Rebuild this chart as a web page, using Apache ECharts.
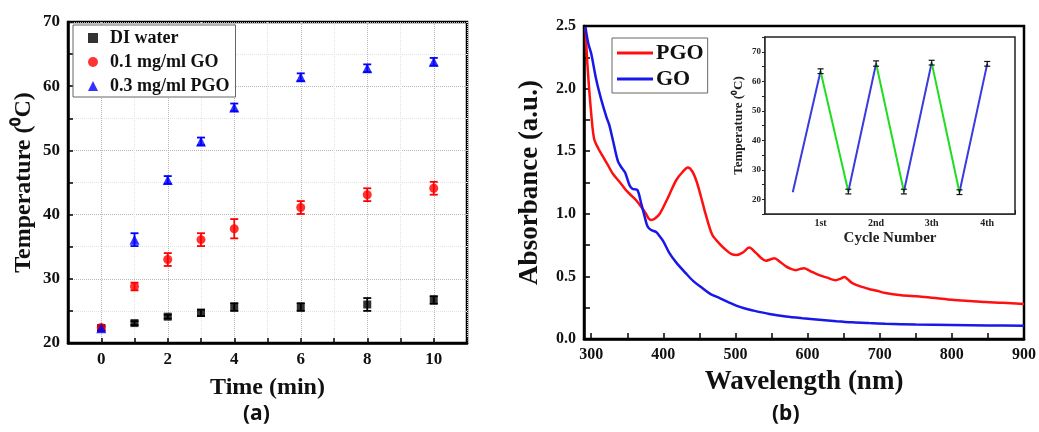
<!DOCTYPE html>
<html>
<head>
<meta charset="utf-8">
<script src="https://cdn.jsdelivr.net/npm/echarts@6/dist/echarts.min.js"></script>
<style>
    html, body { margin: 0; padding: 0; background: #fff; }
    #container { width: 1039px; height: 432px; }
</style>
</head>
<body>
<div id="container"></div>
<script>
// (a) heating curves
const timeMin = [0, 1, 2, 3, 4, 6, 8, 10];
const diWater = [22.3, 23.1, 24.1, 24.7, 25.6, 25.6, 26.0, 26.7];
const diWaterErr = [0.3, 0.3, 0.3, 0.5, 0.6, 0.6, 1.0, 0.6];
const goTemp = [22.4, 28.8, 33.0, 36.1, 37.8, 41.1, 43.1, 44.1];
const goErr = [0.4, 0.6, 1.0, 1.0, 1.5, 1.0, 1.0, 1.0];
const pgoTemp = [22.3, 36.1, 45.4, 51.4, 56.7, 61.4, 62.8, 63.8];
const pgoErr = [0.4, 1.0, 0.6, 0.6, 0.6, 0.6, 0.6, 0.6];
const timeTicks = [0, 2, 4, 6, 8, 10];

// (b) absorbance spectra
const pgoWl = [292, 295, 300, 304, 310, 316, 323, 330, 340, 348, 355, 362, 370, 376, 380, 383, 388, 395, 404, 412, 418, 426, 434, 440, 446, 452, 459, 468, 478, 487, 494, 501, 510, 519, 528, 535, 542, 548, 554, 562, 570, 577, 584, 590, 595, 603, 616, 627, 639, 645, 651, 656, 662, 673, 685, 696, 708, 730, 755, 780, 800, 825, 847, 870, 900];
const pgoAbs = [2.49, 2.17, 1.80, 1.60, 1.52, 1.46, 1.39, 1.32, 1.25, 1.19, 1.15, 1.11, 1.05, 1.00, 0.96, 0.95, 0.96, 1.00, 1.10, 1.20, 1.27, 1.33, 1.37, 1.34, 1.26, 1.14, 0.99, 0.83, 0.76, 0.71, 0.68, 0.67, 0.69, 0.73, 0.69, 0.65, 0.625, 0.635, 0.645, 0.615, 0.58, 0.56, 0.55, 0.56, 0.565, 0.545, 0.51, 0.49, 0.47, 0.48, 0.495, 0.475, 0.446, 0.42, 0.40, 0.385, 0.367, 0.35, 0.34, 0.325, 0.313, 0.303, 0.295, 0.29, 0.28];
const goWl = [292, 296, 300, 307, 314, 321, 325, 330, 337, 342, 347, 353, 357, 364, 369, 374, 378, 383, 390, 395, 400, 408, 418, 431, 442, 454, 465, 478, 490, 501, 512, 524, 547, 570, 593, 616, 640, 662, 685, 708, 750, 800, 850, 900];
const goAbs = [2.49, 2.36, 2.28, 2.07, 1.91, 1.775, 1.71, 1.59, 1.42, 1.37, 1.33, 1.23, 1.20, 1.19, 1.09, 0.98, 0.90, 0.87, 0.855, 0.82, 0.78, 0.69, 0.61, 0.526, 0.46, 0.407, 0.36, 0.327, 0.295, 0.266, 0.245, 0.228, 0.20, 0.18, 0.166, 0.154, 0.142, 0.133, 0.127, 0.122, 0.116, 0.112, 0.108, 0.106];
const wlLabels = [300, 400, 500, 600, 700, 800, 900];
const wlTicks = [300, 350, 400, 450, 500, 550, 600, 650, 700, 750, 800, 850, 900];

// (b) inset: heating / cooling cycles
const cycleX = [0.5, 1, 1.5, 2, 2.5, 3, 3.5, 4];
const cycleT = [22.4, 63.4, 22.6, 66.0, 22.6, 66.3, 22.4, 65.9];
const cycleErr = [0, 0.8, 0.8, 0.9, 0.8, 0.8, 0.8, 0.8];
const cycleNames = { 1: '1st', 2: '2nd', 3: '3th', 4: '4th' };

const serif = "'Liberation Serif', 'Times New Roman', serif";

function errRender(capW, color, lw) {
    return function (params, api) {
        const x = api.value(0);
        const lo = api.coord([x, api.value(1)]);
        const hi = api.coord([x, api.value(2)]);
        const st = { stroke: color, lineWidth: lw };
        return {
            type: 'group',
            children: [
                { type: 'line', shape: { x1: lo[0], y1: lo[1], x2: hi[0], y2: hi[1] }, style: st },
                { type: 'line', shape: { x1: lo[0] - capW, y1: lo[1], x2: lo[0] + capW, y2: lo[1] }, style: st },
                { type: 'line', shape: { x1: hi[0] - capW, y1: hi[1], x2: hi[0] + capW, y2: hi[1] }, style: st }
            ]
        };
    };
}

function errData(xs, ys, es) {
    return xs.map((x, i) => [x, ys[i] - es[i], ys[i] + es[i]]);
}

function pairs(xs, ys) {
    return xs.map((x, i) => [x, ys[i]]);
}

// split cycle line into rising (blue) and falling (green) pieces
let risingData = [];
let fallingData = [];
for (let i = 1; i < cycleX.length; i++) {
    let seg = [[cycleX[i - 1], cycleT[i - 1]], [cycleX[i], cycleT[i]]];
    let target = cycleT[i] > cycleT[i - 1] ? risingData : fallingData;
    if (target.length) target.push('-');
    target.push(...seg);
}

let options = {
    animation: false,
    backgroundColor: '#fff',
    graphic: {
        elements: [
            {
                type: 'text', left: 243, top: 404,
                style: { text: '(a)', font: "bold 21px 'Noto Sans', sans-serif", fill: '#111' }
            },
            {
                type: 'text', left: 772, top: 404,
                style: { text: '(b)', font: "bold 21px 'Noto Sans', sans-serif", fill: '#111' }
            }
        ]
    },
    legend: [
        {
            data: ['DI water', '0.1 mg/ml GO', '0.3 mg/ml PGO'],
            orient: 'vertical',
            left: 73,
            top: 25,
            padding: [4, 6, 2, 15],
            itemGap: 6,
            itemWidth: 10,
            itemHeight: 10,
            borderColor: '#666',
            borderWidth: 1,
            backgroundColor: '#fff',
            textStyle: { fontFamily: serif, fontWeight: 'bold', fontSize: 18, color: '#111', padding: [0, 0, 0, 7] }
        },
        {
            data: ['PGO', 'GO'],
            orient: 'vertical',
            left: 612,
            top: 38,
            padding: [4, 4, 3, 5],
            itemGap: 4,
            itemWidth: 36,
            itemHeight: 3,
            icon: 'rect',
            borderColor: '#666',
            borderWidth: 1,
            backgroundColor: '#fff',
            textStyle: { fontFamily: serif, fontWeight: 'bold', fontSize: 22, color: '#111', padding: [0, 0, 0, -2] }
        }
    ],
    grid: [
        { left: 68, top: 22, width: 399, height: 321, show: true, borderColor: '#000', borderWidth: 2.5 },
        { left: 584, top: 26, width: 442, height: 313, show: true, borderColor: '#000', borderWidth: 2.5 },
        { left: 765, top: 37, width: 250, height: 177, show: true, borderColor: '#222', borderWidth: 1.5, backgroundColor: '#fff', z: 5 }
    ],
    xAxis: [
        {
            gridIndex: 0,
            type: 'value',
            min: -1,
            max: 11,
            interval: 1,
            name: 'Time (min)',
            nameLocation: 'middle',
            nameGap: 33,
            nameTextStyle: { fontFamily: serif, fontWeight: 'bold', fontSize: 24, color: '#111' },
            axisLine: { onZero: false, lineStyle: { color: '#000', width: 2.5 } },
            axisTick: { inside: true, length: 5, lineStyle: { color: '#000', width: 1.5 } },
            axisLabel: {
                margin: 8,
                fontFamily: serif, fontWeight: 'bold', fontSize: 17, color: '#111',
                formatter: v => timeTicks.includes(v) ? String(v) : ''
            },
            splitLine: { show: true, lineStyle: { type: 'dotted', color: ['#e2e2e2', '#b8b8b8'], width: 1 } }
        },
        {
            gridIndex: 1,
            type: 'value',
            min: 290,
            max: 900,
            name: 'Wavelength (nm)',
            nameLocation: 'middle',
            nameGap: 30,
            nameTextStyle: { fontFamily: serif, fontWeight: 'bold', fontSize: 27, color: '#111' },
            axisLine: { onZero: false, lineStyle: { color: '#000', width: 2.5 } },
            axisTick: { inside: true, length: 6, customValues: wlTicks, lineStyle: { color: '#000', width: 1.5 } },
            axisLabel: {
                margin: 8, customValues: wlLabels,
                fontFamily: serif, fontWeight: 'bold', fontSize: 16, color: '#111'
            },
            splitLine: { show: false }
        },
        {
            gridIndex: 2,
            type: 'value',
            min: 0,
            max: 4.5,
            interval: 0.5,
            name: 'Cycle Number',
            nameLocation: 'middle',
            nameGap: 17,
            nameTextStyle: { fontFamily: serif, fontWeight: 'bold', fontSize: 15, color: '#222' },
            axisLine: { onZero: false, lineStyle: { color: '#222', width: 1.5 } },
            axisTick: { inside: true, length: 4, lineStyle: { color: '#222', width: 1 } },
            axisLabel: {
                margin: 4,
                fontFamily: serif, fontWeight: 'bold', fontSize: 10, color: '#222',
                formatter: v => cycleNames[v] || ''
            },
            splitLine: { show: false }
        }
    ],
    yAxis: [
        {
            gridIndex: 0,
            type: 'value',
            min: 20,
            max: 70,
            interval: 5,
            name: 'Temperature (⁰C)',
            nameLocation: 'middle',
            nameGap: 32,
            nameTextStyle: { fontFamily: serif, fontWeight: 'bold', fontSize: 24, color: '#111' },
            axisLine: { onZero: false, lineStyle: { color: '#000', width: 2.5 } },
            axisTick: { inside: true, length: 5, lineStyle: { color: '#000', width: 1.5 } },
            axisLabel: {
                margin: 8,
                fontFamily: serif, fontWeight: 'bold', fontSize: 17, color: '#111',
                formatter: v => v % 10 === 0 ? String(v) : ''
            },
            splitLine: { show: true, lineStyle: { type: 'dotted', color: ['#b8b8b8', '#e2e2e2'], width: 1 } }
        },
        {
            gridIndex: 1,
            type: 'value',
            min: 0,
            max: 2.5,
            interval: 0.5,
            name: 'Absorbance (a.u.)',
            nameLocation: 'middle',
            nameGap: 40,
            nameTextStyle: { fontFamily: serif, fontWeight: 'bold', fontSize: 27, color: '#111' },
            axisLine: { onZero: false, lineStyle: { color: '#000', width: 2.5 } },
            axisTick: { inside: true, length: 6, lineStyle: { color: '#000', width: 1.5 } },
            minorTick: { show: true, splitNumber: 2, length: 6, lineStyle: { color: '#000', width: 1.5 } },
            axisLabel: {
                margin: 8,
                fontFamily: serif, fontWeight: 'bold', fontSize: 16, color: '#111',
                formatter: v => v.toFixed(1)
            },
            splitLine: { show: false }
        },
        {
            gridIndex: 2,
            type: 'value',
            min: 15,
            max: 75,
            interval: 5,
            name: 'Temperature (⁰C)',
            nameLocation: 'middle',
            nameGap: 20,
            nameTextStyle: { fontFamily: serif, fontWeight: 'bold', fontSize: 13, color: '#222' },
            axisLine: { onZero: false, lineStyle: { color: '#222', width: 1.5 } },
            axisTick: { inside: false, length: 3, lineStyle: { color: '#222', width: 1 } },
            axisLabel: {
                margin: 4,
                fontFamily: serif, fontWeight: 'bold', fontSize: 9, color: '#222',
                formatter: v => v % 10 === 0 ? String(v) : ''
            },
            splitLine: { show: false }
        }
    ],
    series: [
        // (a) error bars
        {
            type: 'custom', xAxisIndex: 0, yAxisIndex: 0, z: 2,
            renderItem: errRender(4, '#000', 1.8),
            encode: { x: 0, y: [1, 2] },
            data: errData(timeMin, diWater, diWaterErr)
        },
        {
            type: 'custom', xAxisIndex: 0, yAxisIndex: 0, z: 2,
            renderItem: errRender(4, '#ff0000', 1.8),
            encode: { x: 0, y: [1, 2] },
            data: errData(timeMin, goTemp, goErr)
        },
        {
            type: 'custom', xAxisIndex: 0, yAxisIndex: 0, z: 2,
            renderItem: errRender(4, '#0000ff', 1.8),
            encode: { x: 0, y: [1, 2] },
            data: errData(timeMin, pgoTemp, pgoErr)
        },
        // (a) points
        {
            name: 'DI water', type: 'scatter', xAxisIndex: 0, yAxisIndex: 0, z: 3,
            symbol: 'rect', symbolSize: 8,
            itemStyle: { color: '#000' },
            data: pairs(timeMin, diWater)
        },
        {
            name: '0.1 mg/ml GO', type: 'scatter', xAxisIndex: 0, yAxisIndex: 0, z: 3,
            symbol: 'circle', symbolSize: 9,
            itemStyle: { color: '#ff0000' },
            data: pairs(timeMin, goTemp)
        },
        {
            name: '0.3 mg/ml PGO', type: 'scatter', xAxisIndex: 0, yAxisIndex: 0, z: 3,
            symbol: 'triangle', symbolSize: 10,
            itemStyle: { color: '#0000ff' },
            data: pairs(timeMin, pgoTemp)
        },
        // (b) spectra
        {
            name: 'PGO', type: 'line', xAxisIndex: 1, yAxisIndex: 1,
            symbol: 'none', smooth: 0.3,
            lineStyle: { color: '#ff1010', width: 2.5 },
            itemStyle: { color: '#ff1010' },
            data: pairs(pgoWl, pgoAbs)
        },
        {
            name: 'GO', type: 'line', xAxisIndex: 1, yAxisIndex: 1,
            symbol: 'none', smooth: 0.3,
            lineStyle: { color: '#1818e8', width: 2.5 },
            itemStyle: { color: '#1818e8' },
            data: pairs(goWl, goAbs)
        },
        // (b) inset cycles
        {
            type: 'line', xAxisIndex: 2, yAxisIndex: 2, z: 6,
            symbol: 'none', connectNulls: false,
            lineStyle: { color: '#3a3ae0', width: 2 },
            data: risingData
        },
        {
            type: 'line', xAxisIndex: 2, yAxisIndex: 2, z: 6,
            symbol: 'none', connectNulls: false,
            lineStyle: { color: '#20dd20', width: 2 },
            data: fallingData
        },
        {
            type: 'custom', xAxisIndex: 2, yAxisIndex: 2, z: 7,
            renderItem: errRender(3, '#111', 1.2),
            encode: { x: 0, y: [1, 2] },
            data: errData(cycleX, cycleT, cycleErr).filter((d, i) => cycleErr[i] > 0)
        }
    ]
}

const container = document.getElementById('container')
let mychart = echarts.init(container, null, { renderer: 'canvas' })
mychart.setOption(options)
window.addEventListener('resize', () => { mychart.resize() })
</script>
</body>
</html>
